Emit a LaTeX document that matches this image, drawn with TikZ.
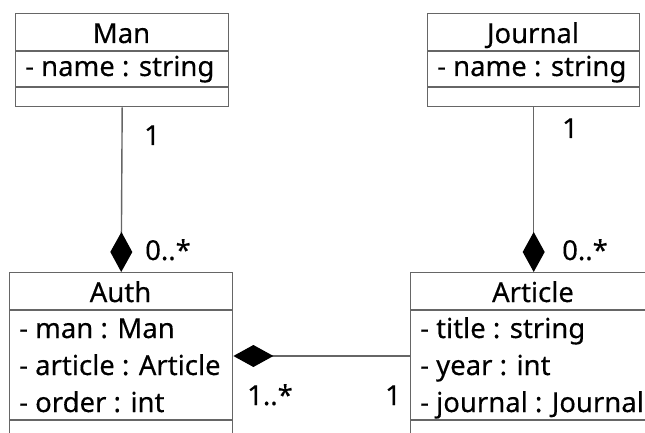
\documentclass[tikz,border=0pt]{standalone}
\usepackage{fontspec}
\setmainfont[FakeBold=0.3]{Noto Sans}
\usetikzlibrary{arrows.meta}
\tikzset{
  x=1pt, y=-1pt,
  frame/.style={draw=black!60, line width=1.4pt, inner sep=0pt, anchor=north west},
  sep/.style={draw=black!60, line width=1.4pt},
  txt/.style={font=\fontsize{27.5}{32}\selectfont, inner sep=0pt, text=black},
  title/.style={txt, anchor=base},
  attr/.style={txt, anchor=base west},
  mult/.style={txt, anchor=base west},
  link/.style={draw=black!60, line width=1.4pt},
  comp/.style={-{Diamond[length=40pt, width=22pt, fill=black, color=black]}},
}
\begin{document}
\begin{tikzpicture}
\useasboundingbox (0,0) rectangle (645,433);
\clip (0,0) rectangle (645,433);
\fill[white] (0,0) rectangle (645,433);

% class boxes
\node[frame, minimum width=213pt, minimum height=93pt] (man) at (15,13) {};
\node[frame, minimum width=212pt, minimum height=93pt] (journal) at (427,13) {};
\node[frame, minimum width=223pt, minimum height=200pt] (auth) at (9,272) {};
\node[frame, minimum width=246pt, minimum height=200pt] (article) at (410,272) {};

% compartment separators
\draw[sep] (15,51) -- (228,51);
\draw[sep] (15,87) -- (228,87);
\draw[sep] (427,51) -- (639,51);
\draw[sep] (427,87) -- (639,87);
\draw[sep] (9,310) -- (232,310);
\draw[sep] (9,420) -- (232,420);
\draw[sep] (410,310) -- (656,310);
\draw[sep] (410,420) -- (656,420);

% class names
\node[title] (mantitle) at (121.5,43) {Man};
\node[title] (journaltitle) at (533,43) {Journal};
\node[title] (authtitle) at (120.5,302) {Auth};
\node[title] (articletitle) at (533,302) {Article};

% attributes
\node[attr] (manname) at (25,76) {- name : string};
\node[attr] (journalname) at (437,76) {- name : string};
\node[attr] (authman) at (19,338) {- man : Man};
\node[attr] (autharticle) at (19,375) {- article : Article};
\node[attr] (authorder) at (19,412) {- order : int};
\node[attr] (arttitle) at (420,338) {- title : string};
\node[attr] (artyear) at (420,375) {- year : int};
\node[attr] (artjournal) at (420,412) {- journal : Journal};

% compositions
\draw[link, comp] (man.south) -- (auth.north);
\draw[link, comp] (journal.south) -- (article.north);
\draw[link, comp] (article.west |- 0,356) -- (auth.east |- 0,356);

% multiplicities
\node[mult] (m1) at (144,145) {1};
\node[mult] (m2) at (145,260) {0..*};
\node[mult] (j1) at (562,138) {1};
\node[mult] (j2) at (562,260) {0..*};
\node[mult] (a1) at (247,405) {1..*};
\node[mult] (a2) at (385,405) {1};
\end{tikzpicture}
\end{document}
